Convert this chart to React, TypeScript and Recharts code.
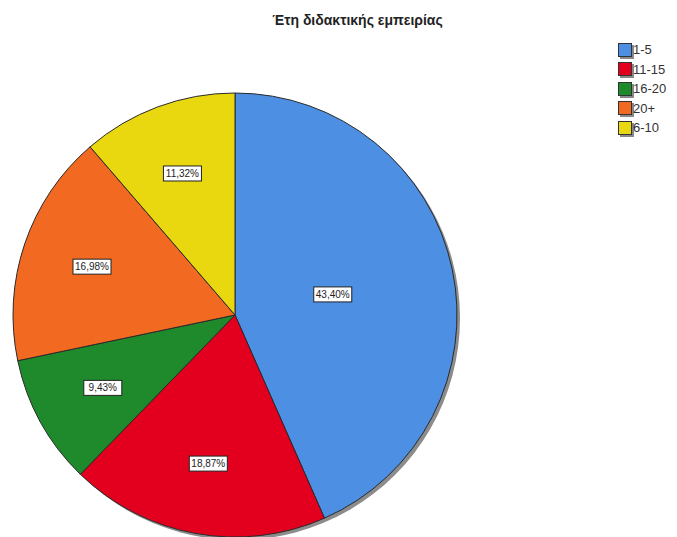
import { PieChart, Pie, Cell, Legend } from "recharts";

const categories = ["1-5", "11-15", "16-20", "20+", "6-10"];
const counts = [23, 10, 5, 9, 6];
const colors = ["#4C8FE3", "#E3001E", "#1F8A2C", "#F26A21", "#E9D70F"];

const data = categories.map((name, i) => ({ name, value: counts[i] }));
const shadowData = [{ name: "shadow", value: 1 }];

const RAD = Math.PI / 180;

// eslint-disable-next-line @typescript-eslint/no-explicit-any
function renderLabel(props: any) {
  const { cx, cy, midAngle, outerRadius, percent } = props;
  const factor = percent > 0.4 ? 0.45 : 0.68;
  const r = outerRadius * factor;
  const x = cx + r * Math.cos(-midAngle * RAD);
  const y = cy + r * Math.sin(-midAngle * RAD);
  const text = (percent * 100).toFixed(2).replace(".", ",") + "%";
  const w = 38;
  const h = 15;
  return (
    <g>
      <rect x={x - w / 2} y={y - h / 2} width={w} height={h} fill="#fff" stroke="#222" strokeWidth={1} />
      <text
        x={x}
        y={y + 0.5}
        textAnchor="middle"
        dominantBaseline="middle"
        fontSize={10}
        fontFamily="Liberation Sans, Arial, sans-serif"
        fill="#222"
      >
        {text}
      </text>
    </g>
  );
}

// eslint-disable-next-line @typescript-eslint/no-explicit-any
function renderLegend(props: any) {
  const payload = (props.payload || []).filter((e: any) => e.value !== "shadow");
  return (
    <div style={{ fontFamily: "Liberation Sans, Arial, sans-serif", fontSize: 13, color: "#333" }}>
      {payload.map((entry: any) => (
        <div key={entry.value} style={{ display: "flex", alignItems: "center", height: 19.5 }}>
          <span
            style={{
              display: "inline-block",
              width: 12,
              height: 12,
              background: entry.color,
              border: "1px solid #333",
              boxShadow: "2px 2px 0 #888",
              marginRight: 1,
            }}
          />
          {entry.value}
        </div>
      ))}
    </div>
  );
}

export default function App() {
  return (
    <div style={{ position: "absolute", left: 0, top: 0, width: 677, height: 537, background: "#fff" }}>
      <div
        style={{
          position: "absolute",
          left: 0,
          width: 715,
          top: 12,
          textAlign: "center",
          fontFamily: "Liberation Sans, Arial, sans-serif",
          fontWeight: "bold",
          fontSize: 14,
          color: "#222",
          zIndex: 2,
        }}
      >
        Έτη διδακτικής εμπειρίας
      </div>
      <PieChart width={677} height={537} margin={{ top: 0, right: 0, bottom: 0, left: 0 }}>
        <Pie
          data={shadowData}
          dataKey="value"
          cx={238}
          cy={318}
          outerRadius={222}
          startAngle={90}
          endAngle={-270}
          fill="#8c8c8c"
          stroke="none"
          isAnimationActive={false}
          legendType="none"
        />
        <Pie
          data={data}
          dataKey="value"
          nameKey="name"
          cx={235}
          cy={315}
          outerRadius={222}
          startAngle={90}
          endAngle={-270}
          stroke="#2a2a2a"
          strokeWidth={1}
          label={renderLabel}
          labelLine={false}
          isAnimationActive={false}
        >
          {data.map((d, i) => (
            <Cell key={d.name} fill={colors[i]} />
          ))}
        </Pie>
        <Legend
          layout="vertical"
          verticalAlign="top"
          align="right"
          content={renderLegend}
          wrapperStyle={{ left: 618, top: 40, width: 59 }}
        />
      </PieChart>
    </div>
  );
}
